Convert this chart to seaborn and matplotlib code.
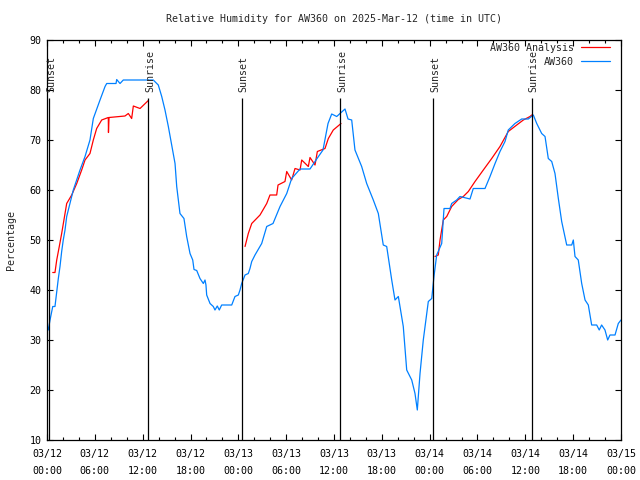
import matplotlib
matplotlib.use("Agg")
import matplotlib.pyplot as plt
from matplotlib.lines import Line2D
from matplotlib.ticker import MultipleLocator
import numpy as np
import pandas as pd
import seaborn as sns

# ---------------- data (hours since 2025-03-12 00:00 UTC) ----------------
obs_hours = [0.0, 0.16, 0.38, 0.72, 1.0, 1.22, 1.42, 1.63, 1.84, 2.04, 2.26, 2.47,
             3.30, 4.14, 4.77, 5.39, 5.81, 6.65, 7.28, 7.49, 8.66, 8.74, 9.16, 9.57,
             13.33, 13.96, 14.39, 14.80, 15.22, 15.64, 16.06, 16.27, 16.68, 17.18,
             17.52, 17.94, 18.28, 18.44, 18.78, 19.19, 19.61, 19.82, 19.94, 20.03,
             20.45, 20.86, 21.07, 21.36, 21.61, 21.91, 23.17, 23.58, 24.0, 24.21,
             24.42, 24.84, 25.25, 25.46, 25.68, 26.09, 26.93, 27.56, 28.35, 29.23,
             30.07, 30.69, 31.74, 32.99, 33.83, 34.62, 35.25, 35.71, 36.34, 37.38,
             37.76, 38.22, 38.63, 39.47, 40.10, 40.93, 41.56, 42.18, 42.61, 43.24,
             43.65, 44.07, 44.69, 45.12, 45.75, 46.16, 46.45, 46.79, 47.20, 47.83,
             48.26, 48.54, 48.88, 49.51, 49.80, 50.55, 50.76, 51.39, 51.80, 53.06,
             53.47, 54.94, 55.57, 56.20, 56.82, 57.45, 57.86, 58.70, 59.54, 60.37,
             61.0, 61.43, 62.05, 62.47, 62.88, 63.31, 63.72, 64.14, 64.56, 65.19,
             65.82, 66.02, 66.23, 66.64, 67.07, 67.49, 67.90, 68.32, 68.95, 69.27,
             69.57, 69.99, 70.33, 70.62, 71.25, 71.66, 72.0]
obs_values = [33.0, 32.0, 34.0, 36.7, 36.7, 39.7, 42.3, 44.7, 47.7, 50.0, 52.0, 54.7,
              60.0, 64.0, 66.7, 70.0, 74.3, 78.0, 80.7, 81.3, 81.3, 82.1, 81.3, 82.0,
              82.0, 81.0, 78.7, 76.0, 72.7, 69.0, 65.3, 60.7, 55.3, 54.3,
              50.7, 47.3, 46.0, 44.1, 43.9, 42.3, 41.3, 42.0, 41.0, 39.0,
              37.3, 36.7, 36.0, 36.8, 36.0, 37.0, 37.0, 38.7, 39.0, 40.0,
              41.3, 43.0, 43.3, 44.3, 45.7, 47.0, 49.3, 52.7, 53.3, 56.7,
              59.3, 62.3, 64.2, 64.2, 66.2, 68.0, 73.3, 75.2, 74.7, 76.2,
              74.2, 74.0, 68.0, 64.7, 61.3, 58.0, 55.3, 49.0, 48.7, 42.0,
              38.0, 38.7, 32.7, 24.0, 22.0, 19.3, 16.0, 23.3, 30.0, 37.7,
              38.3, 42.7, 47.0, 49.3, 56.3, 56.3, 57.3, 58.0, 58.7, 58.2,
              60.3, 60.3, 62.7, 65.3, 67.7, 69.7, 72.0, 73.3, 74.2, 74.2,
              75.0, 73.3, 71.3, 70.7, 66.3, 65.7, 63.3, 58.3, 53.7, 49.0,
              49.0, 50.0, 46.7, 46.0, 41.3, 38.0, 37.0, 33.0, 33.0, 32.0,
              33.0, 32.0, 30.0, 31.0, 31.0, 33.3, 34.0]

ana_segment = [1] * 23 + [2] * 22 + [3] * 18
ana_hours = [0.72, 1.0, 1.22, 1.54, 1.84, 2.47, 3.10, 3.73, 4.35, 4.77, 5.39, 5.81,
             6.23, 6.86, 7.69, 7.71, 7.78, 9.78, 10.2, 10.62, 10.83, 11.67, 12.71,
             24.84, 25.25, 25.68, 26.72, 27.56, 27.97, 28.81, 28.98, 29.85, 30.07,
             30.69, 31.11, 31.74, 31.95, 32.78, 32.99, 33.62, 33.91, 34.87, 35.29,
             35.91, 36.88,
             48.67, 49.08, 49.30, 49.71, 50.14, 50.76, 51.59, 52.22, 52.85, 53.69,
             54.73, 55.78, 56.82, 57.86, 58.92, 59.75, 60.59, 60.80]
ana_values = [43.5, 43.5, 46.0, 48.7, 51.3, 57.3, 59.0, 61.3, 64.0, 66.0, 67.3, 70.0,
              72.3, 74.0, 74.5, 71.5, 74.5, 74.8, 75.3, 74.3, 76.8, 76.3, 77.9,
              48.7, 51.3, 53.3, 55.0, 57.3, 59.0, 59.0, 61.0, 61.7, 63.7,
              62.0, 64.3, 64.0, 66.0, 64.7, 66.5, 65.0, 67.7, 68.3, 70.3,
              72.0, 73.3,
              46.7, 47.0, 50.0, 54.0, 54.7, 56.7, 58.1, 58.7, 59.7, 61.7,
              64.0, 66.3, 68.7, 71.7, 73.0, 74.0, 74.7, 75.0]

sun_hours = [0.29, 12.71, 24.42, 36.79, 48.46, 60.80]
sun_labels = ["Sunset", "Sunrise", "Sunset", "Sunrise", "Sunset", "Sunrise"]

tick_hours = [0, 6, 12, 18, 24, 30, 36, 42, 48, 54, 60, 66, 72]
tick_labels = ["03/12\n00:00", "03/12\n06:00", "03/12\n12:00", "03/12\n18:00",
               "03/13\n00:00", "03/13\n06:00", "03/13\n12:00", "03/13\n18:00",
               "03/14\n00:00", "03/14\n06:00", "03/14\n12:00", "03/14\n18:00",
               "03/15\n00:00"]

title = "Relative Humidity for AW360 on 2025-Mar-12 (time in UTC)"
red = "#ff0000"
blue = "#0080ff"

# ---------------- plot ----------------
sns.set_theme(style="white")
plt.rcParams["font.family"] = ["DejaVu Sans Mono", "DejaVu Sans"]
plt.rcParams["font.size"] = 7.2

fig = plt.figure(figsize=(6.4, 4.8), dpi=100)
ax = fig.add_axes([47 / 640, 1 - 440 / 480, 574 / 640, 400 / 480])

obs_df = pd.DataFrame({"hour": obs_hours, "rh": obs_values})
ana_df = pd.DataFrame({"hour": ana_hours, "rh": ana_values, "seg": ana_segment})

sns.lineplot(data=ana_df, x="hour", y="rh", units="seg", estimator=None,
             sort=False, color=red, linewidth=0.9, ax=ax, legend=False)
sns.lineplot(data=obs_df, x="hour", y="rh", estimator=None, sort=False,
             color=blue, linewidth=0.9, ax=ax, legend=False)

ax.vlines(sun_hours, 10, 78.4, color="black", linewidth=0.9)
for h, lab in zip(sun_hours, sun_labels):
    ax.annotate(lab, xy=(h, 79.6), xytext=(1.5, 0), textcoords="offset points",
                rotation=90, ha="center", va="bottom", fontsize=7.2)

ax.set_xlim(0, 72)
ax.set_ylim(10, 90)
ax.set_xticks(tick_hours)
ax.set_xticklabels(tick_labels, linespacing=1.85)
ax.xaxis.set_minor_locator(MultipleLocator(2))
ax.set_yticks(range(10, 91, 10))
ax.tick_params(axis="both", which="both", direction="in", top=True, right=True,
               bottom=True, left=True, colors="black", labelsize=7.2)
ax.tick_params(axis="both", which="major", length=4, width=0.8)
ax.tick_params(axis="x", which="minor", length=2, width=0.8)
ax.tick_params(axis="x", which="major", pad=6.5)
ax.tick_params(axis="y", which="major", pad=4)
for s in ax.spines.values():
    s.set_color("black")
    s.set_linewidth(0.9)
ax.set_xlabel("")
ax.set_ylabel("Percentage", fontsize=7.2)
ax.yaxis.set_label_coords(-0.054, 0.5)

fig.text(334 / 640, 1 - 19 / 480, title, ha="center", va="center", fontsize=7.2)

handles = [Line2D([], [], color=red, linewidth=0.9),
           Line2D([], [], color=blue, linewidth=0.9)]
ax.legend(handles, ["AW360 Analysis", "AW360"], loc="upper right",
          bbox_to_anchor=((610 - 47) / 574, 1 - 3 / 400), frameon=False,
          markerfirst=False, handlelength=2.9, handletextpad=0.7,
          labelspacing=0.4, borderaxespad=0, borderpad=0, fontsize=7.2)

fig.savefig("out.png", dpi=100)
